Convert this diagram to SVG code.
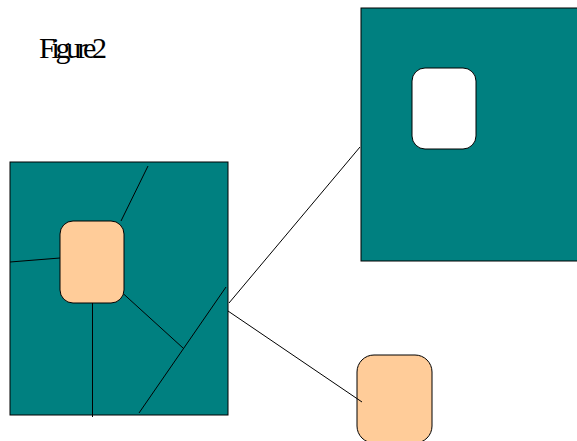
<svg xmlns="http://www.w3.org/2000/svg" width="577" height="441" viewBox="0 0 577 441">
<style>
.teal{fill:#008080;stroke:#000;stroke-width:1}
.peach{fill:#FFCC99;stroke:#000;stroke-width:1}
.hole{fill:#fff;stroke:#000;stroke-width:1}
.ln{stroke:#000;stroke-width:1;fill:none}
.title{font-family:"Liberation Serif","Times New Roman",serif;font-size:30px;fill:#000}
</style>
<rect width="577" height="441" fill="#fff"/>
<text class="title" x="39" y="58" textLength="68" lengthAdjust="spacing">Figure2</text>
<g id="left-panel">
<rect class="teal" x="10" y="162" width="218" height="253"/>
<line class="ln" x1="148" y1="166" x2="121" y2="221"/>
<line class="ln" x1="10" y1="262" x2="60" y2="258"/>
<line class="ln" x1="92.5" y1="303" x2="92.5" y2="417"/>
<line class="ln" x1="122.5" y1="293" x2="183" y2="348"/>
<line class="ln" x1="226" y1="287" x2="139" y2="413"/>
<rect id="inner-peach" class="peach" x="60" y="221" width="64" height="82" rx="13" ry="13"/>
</g>
<g id="right-panel">
<rect class="teal" x="361" y="8" width="220" height="253"/>
<rect id="hole" class="hole" x="412" y="68" width="64" height="81" rx="13" ry="13"/>
</g>
<g id="bottom-peach">
<rect class="peach" x="357" y="355" width="75" height="88" rx="17" ry="17"/>
</g>
<g id="connectors">
<line class="ln" x1="229" y1="303" x2="360" y2="147"/>
<line class="ln" x1="228" y1="311" x2="362" y2="402"/>
</g>
</svg>
